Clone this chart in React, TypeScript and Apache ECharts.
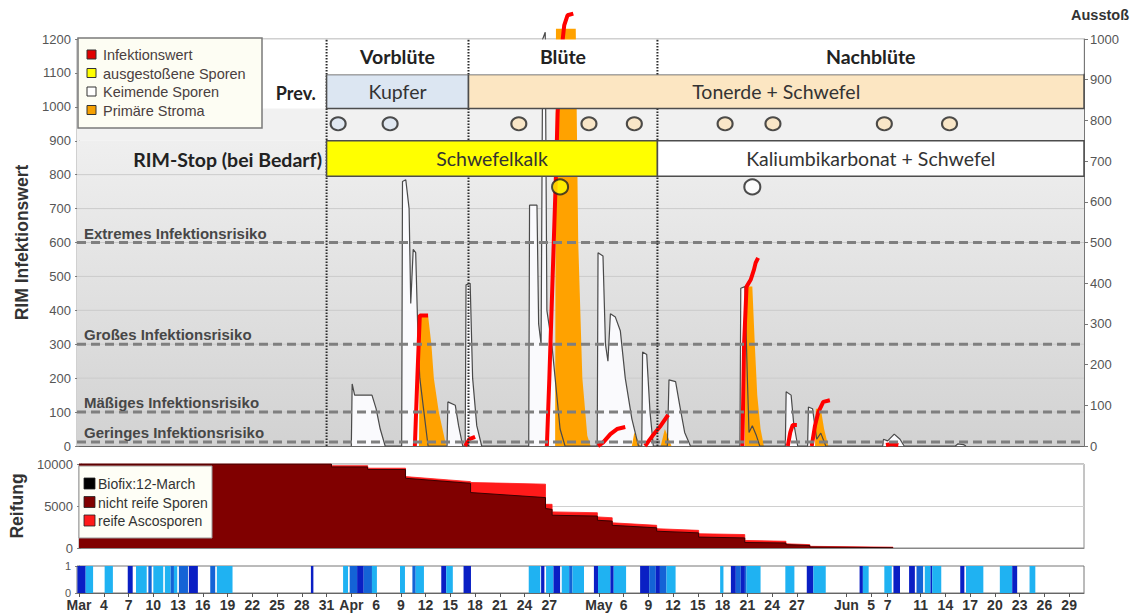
import React, { useEffect, useRef } from 'react';
import * as echarts from 'echarts';

// x unit: days since 1 March (0 = Mar 1)
const X_MIN = -0.25;
const X_MAX = 121.8;

const dateTickDays = [0, 3, 6, 9, 12, 15, 18, 21, 24, 27, 30, 33, 36, 39, 42, 45, 48, 51, 54, 57, 63, 66, 69, 72, 75, 78, 81, 84, 87, 93, 96, 98, 102, 105, 108, 111, 114, 117, 120];
const dateTickLabels = ['Mar', '4', '7', '10', '13', '16', '19', '22', '25', '28', '31', 'Apr', '6', '9', '12', '15', '18', '21', '24', '27', 'May', '6', '9', '12', '15', '18', '21', '24', '27', 'Jun', '5', '7', '11', '14', '17', '20', '23', '26', '29'];

const phaseNames = ['Vorblüte', 'Blüte', 'Nachblüte'];
const phaseStart = [30, 47.2, 70.1];
const phaseEnd = [47.2, 70.1, 121.8];
const phaseLabelValue = 1147;
const HEADER_LOW = 1095;
const HEADER_HIGH = 1200;

const bandLabels = ['Kupfer', 'Tonerde + Schwefel', 'Schwefelkalk', 'Kaliumbikarbonat + Schwefel'];
const bandStart = [30, 47.2, 30, 70.1];
const bandEnd = [47.2, 121.8, 70.1, 121.8];
const bandLow = [995, 995, 795, 795];
const bandHigh = [1095, 1095, 900, 900];
const bandColors = ['#dce6f2', '#fce6c2', '#ffff00', '#ffffff'];

const rowLabels = ['Prev.', 'RIM-Stop (bei Bedarf)'];
const rowLabelDay = [28.7, 29.45];
const rowLabelValue = [1040, 846];
const rowLabelSize = [18, 19.5];

const sprayDays = [31.4, 37.7, 53.3, 61.8, 67.3, 78.3, 84.1, 97.6, 105.5];
const sprayFill = ['#dce6f2', '#dce6f2', '#fbe3bd', '#fbe3bd', '#fbe3bd', '#fbe3bd', '#fbe3bd', '#fbe3bd', '#fbe3bd'];
const SPRAY_LEVEL = 950;

const dischargeDays = [58.3, 81.6];
const dischargeFill = ['#ffff00', '#ffffff'];
const DISCHARGE_LEVEL = 764;

const riskValues = [600, 300, 100, 12];
const riskLabels = ['Extremes Infektionsrisiko', 'Großes Infektionsrisiko', 'Mäßiges Infektionsrisiko', 'Geringes Infektionsrisiko'];
const gridValues = [100, 200, 300, 400, 500, 600, 700, 800];
const BG_ROW_HIGH = 995;
const BG_ROW_LOW = 900;

// Keimende Sporen (germinating spores)
const germData = [
  [33.0, 0], [33.1, 183], [33.4, 150], [35.5, 150], [36.0, 110], [36.5, 50], [37.1, 0],
  [39.1, 0], [39.2, 780], [39.6, 785], [40.0, 700], [40.2, 420], [40.5, 580], [40.8, 570], [41.1, 300], [41.3, 200], [41.8, 100], [42.3, 0],
  [44.6, 0], [44.7, 130], [45.6, 120], [46.0, 60], [46.5, 0],
  [46.8, 0], [46.9, 475], [47.4, 480], [47.7, 200], [48.2, 60], [48.8, 0],
  [54.5, 0], [54.6, 710], [55.5, 710], [55.7, 360], [56.0, 300], [56.2, 1200], [56.5, 1220], [56.7, 400], [57.3, 300], [57.7, 200], [58.3, 50], [58.9, 0],
  [62.8, 0], [62.9, 570], [63.5, 560], [63.8, 300], [64.1, 250], [64.4, 390], [65.0, 380], [65.6, 340], [66.2, 200], [67.0, 80], [67.8, 0],
  [68.2, 0], [68.3, 277], [68.8, 270], [69.2, 100], [69.6, 0],
  [71.3, 0], [71.5, 195], [72.3, 190], [72.8, 120], [73.4, 40], [74.1, 0],
  [80.1, 0], [80.2, 465], [80.7, 470], [81.0, 200], [81.2, 40], [81.6, 60], [82.1, 30], [82.5, 0],
  [85.6, 0], [85.7, 160], [86.3, 150], [86.6, 70], [87.1, 0],
  [88.3, 0], [88.4, 115], [88.9, 110], [89.4, 20], [89.9, 38], [90.5, 0],
  [97.4, 0], [97.5, 20], [98.0, 15], [98.8, 35], [99.5, 20], [100.0, 0],
  [106.2, 0], [106.5, 6], [107.2, 4], [107.5, 0],
];

// Primäre Stroma
const stromaData = [
  [41.2, 0], [41.3, 385], [42.3, 385], [42.7, 300], [43.0, 200], [43.6, 100], [44.5, 0],
  [57.7, 0], [57.8, 1230], [60.2, 1230], [60.5, 600], [61.0, 200], [61.6, 30], [62.0, 0],
  [67.0, 0], [67.3, 40], [68.0, 0],
  [70.5, 0], [71.0, 50], [71.8, 0],
  [80.7, 0], [80.8, 470], [81.6, 470], [81.9, 300], [82.2, 150], [82.6, 50], [83.0, 0],
  [89.2, 0], [89.3, 110], [89.9, 110], [90.3, 50], [90.8, 0],
];

// Infektionswert segments
const infectSegments = [
  [[40.7, 0], [41.0, 200], [41.3, 385], [42.3, 385]],
  [[46.8, 0], [47.3, 20], [48.0, 27]],
  [[56.7, 0], [57.0, 200], [57.4, 500], [57.8, 800], [58.0, 980], [58.4, 1150], [58.8, 1240], [59.2, 1270], [59.9, 1275]],
  [[62.9, 0], [63.5, 10], [64.4, 35], [65.2, 50], [66.2, 56]],
  [[68.6, 0], [69.5, 30], [70.5, 60], [71.4, 92]],
  [[80.4, 0], [80.6, 300], [80.9, 470], [81.4, 490], [81.8, 520], [82.0, 540], [82.3, 555]],
  [[85.9, 0], [86.2, 40], [86.5, 62], [87.0, 62]],
  [[88.8, 0], [89.2, 60], [89.6, 100], [90.2, 130], [91.0, 135]],
  [[97.8, 3], [98.5, 6], [99.3, 3]],
];

// Reifung
const totalSpores = [
  [X_MIN, 10000], [30.4, 10000], [30.4, 9800], [34.8, 9800], [34.8, 9500], [39.4, 9500], [39.4, 8500], [47.3, 7900], [47.3, 7800],
  [56.4, 7600], [56.4, 5200], [57.2, 5200], [57.2, 4300], [62.7, 4200], [62.7, 3700], [64.5, 3600], [64.5, 3000], [69.9, 2700],
  [69.9, 2300], [75.0, 2100], [75.0, 1700], [80.6, 1600], [80.6, 900], [85.6, 800], [85.6, 500], [88.5, 400], [88.5, 200],
  [98.6, 100], [98.6, 0],
];
const unripeSpores = [
  [X_MIN, 10000], [30.4, 10000], [30.4, 9650], [34.8, 9650], [34.8, 9350], [39.4, 9350], [39.4, 8300], [47.3, 7700], [47.3, 6600],
  [56.4, 6000], [56.4, 4700], [57.2, 4600], [57.2, 3900], [62.7, 3800], [62.7, 3300], [64.5, 3200], [64.5, 2700], [69.9, 2400],
  [69.9, 2000], [75.0, 1800], [75.0, 1300], [80.6, 1200], [80.6, 650], [85.6, 600], [85.6, 400], [88.5, 300], [88.5, 120],
  [98.6, 40], [98.6, 0],
];

// Leaf wetness strip: start, end, level (1 light, 2 medium, 3 dark)
const wetStart = [-0.2, 0.8, 3.1, 5.9, 6.9, 8.4, 9.0, 10.4, 11.1, 11.5, 12.1, 13.3, 15.9, 16.7, 28.1, 32.0, 32.8, 33.7, 34.5, 35.5, 38.9, 40.4, 40.8, 43.9, 44.5, 46.6, 54.5, 56.0, 56.6, 57.5, 58.5, 59.4, 59.8, 62.4, 62.9, 64.4, 64.8, 68.0, 69.1, 69.9, 70.4, 71.2, 77.7, 79.0, 79.6, 80.2, 80.7, 80.9, 85.6, 88.2, 89.0, 94.6, 95.0, 97.6, 98.7, 100.6, 101.5, 102.5, 103.2, 103.4, 106.8, 107.5, 111.6, 113.1, 115.2];
const wetEnd = [0.8, 1.7, 4.1, 6.5, 8.2, 8.8, 10.2, 11.1, 11.5, 11.9, 13.2, 14.4, 16.5, 18.6, 28.4, 32.6, 33.7, 34.5, 35.5, 36.1, 39.5, 40.8, 41.8, 44.5, 45.3, 47.5, 55.9, 56.4, 57.5, 58.3, 59.4, 59.8, 61.2, 62.9, 64.4, 64.8, 66.3, 69.1, 69.9, 70.4, 71.2, 72.3, 78.1, 79.6, 80.2, 80.7, 80.9, 82.6, 86.7, 89.0, 90.5, 95.0, 95.7, 98.5, 99.5, 101.3, 102.3, 103.2, 103.4, 104.5, 107.3, 109.6, 113.1, 113.7, 115.9];
const wetLevel = [3, 1, 1, 3, 1, 2, 1, 1, 2, 1, 2, 3, 2, 1, 3, 1, 2, 3, 2, 1, 1, 2, 1, 3, 1, 3, 1, 3, 1, 3, 1, 2, 1, 3, 1, 3, 1, 3, 2, 3, 2, 1, 1, 3, 2, 3, 2, 1, 1, 3, 1, 3, 1, 1, 3, 3, 2, 1, 3, 1, 3, 1, 1, 3, 1];
const wetColors = ['#ffffff', '#1fb2f2', '#1463d6', '#0a1fc4'];

const ARIAL = '"Liberation Sans", Arial, sans-serif';
const CAL = 'Lato, "Open Sans", sans-serif';

function buildOption(): any {
  const series: any[] = [];

  // background + gridlines
  series.push({
    type: 'custom', xAxisIndex: 0, yAxisIndex: 0, z: 1, silent: true,
    data: [[X_MIN, 0]],
    renderItem: (_p: any, api: any) => {
      const l = api.coord([X_MIN, 0])[0];
      const r = api.coord([X_MAX, 0])[0];
      const yv = (v: number) => api.coord([X_MIN, v])[1];
      const children: any[] = [
        { type: 'rect', shape: { x: l, y: yv(BG_ROW_HIGH), width: r - l, height: yv(BG_ROW_LOW) - yv(BG_ROW_HIGH) }, style: { fill: '#f1f1f1' } },
        {
          type: 'rect', shape: { x: l, y: yv(BG_ROW_LOW), width: r - l, height: yv(0) - yv(BG_ROW_LOW) },
          style: { fill: new echarts.graphic.LinearGradient(0, 0, 0, 1, [{ offset: 0, color: '#efefef' }, { offset: 1, color: '#d2d2d2' }]) },
        },
      ];
      gridValues.forEach((v) => children.push({ type: 'line', shape: { x1: l, y1: yv(v), x2: r, y2: yv(v) }, style: { stroke: '#cbcbcb', lineWidth: 1 } }));
      return { type: 'group', children };
    },
  });

  series.push({
    type: 'line', name: 'Keimende Sporen', xAxisIndex: 0, yAxisIndex: 0, z: 3, clip: false,
    data: germData, symbol: 'none', lineStyle: { color: '#4a4a4a', width: 1.2 },
    areaStyle: { color: '#fafafd', opacity: 1 },
  });
  series.push({
    type: 'line', name: 'Primäre Stroma', xAxisIndex: 0, yAxisIndex: 0, z: 3, clip: false,
    data: stromaData, symbol: 'none', lineStyle: { width: 0, color: '#ffa200' },
    areaStyle: { color: '#ffa200', opacity: 1 },
  });
  infectSegments.forEach((seg) => {
    series.push({
      type: 'line', name: 'Infektionswert', xAxisIndex: 0, yAxisIndex: 0, z: 3, clip: false,
      data: seg, symbol: 'none', lineStyle: { color: '#ff0000', width: 4 },
    });
  });

  // thresholds and phase boundaries
  series.push({
    type: 'custom', xAxisIndex: 0, yAxisIndex: 0, z: 4, silent: true,
    data: [[X_MIN, 0]],
    renderItem: (_p: any, api: any) => {
      const l = api.coord([X_MIN, 0])[0];
      const r = api.coord([X_MAX, 0])[0];
      const children: any[] = [];
      riskValues.forEach((v, i) => {
        const y = api.coord([X_MIN, v])[1];
        children.push({ type: 'line', shape: { x1: l, y1: y, x2: r, y2: y }, style: { stroke: '#7f7f7f', lineWidth: 3, lineDash: [9, 5] } });
        children.push({ type: 'text', x: l + 7, y: y - 2, style: { text: riskLabels[i], fill: '#474747', fontSize: 15, fontWeight: 'bold', fontFamily: ARIAL, align: 'left', verticalAlign: 'bottom' } });
      });
      phaseStart.forEach((b) => {
        const p0 = api.coord([b, 0]);
        const p1 = api.coord([b, 1200]);
        children.push({ type: 'line', shape: { x1: p0[0], y1: p0[1], x2: p1[0], y2: p1[1] }, style: { stroke: '#2a2a2a', lineWidth: 2, lineDash: [1.5, 1.5] } });
      });
      return { type: 'group', children };
    },
  });

  series.push({
    type: 'scatter', name: 'Spritzung', xAxisIndex: 0, yAxisIndex: 0, z: 9,
    symbol: 'circle', symbolSize: [15, 13],
    data: sprayDays.map((d, i) => ({ value: [d, SPRAY_LEVEL], itemStyle: { color: sprayFill[i] } })),
    itemStyle: { borderColor: '#222', borderWidth: 2 },
  });
  series.push({
    type: 'scatter', name: 'ausgestoßene Sporen', xAxisIndex: 0, yAxisIndex: 0, z: 12,
    symbol: 'circle', symbolSize: [16, 15],
    data: dischargeDays.map((d, i) => ({ value: [d, DISCHARGE_LEVEL], itemStyle: { color: dischargeFill[i] } })),
    itemStyle: { borderColor: '#222', borderWidth: 2 },
  });

  // bands
  series.push({
    type: 'custom', xAxisIndex: 0, yAxisIndex: 0, z: 10, silent: true,
    data: bandStart.map((s, i) => [s, bandHigh[i]]),
    renderItem: (params: any, api: any) => {
      const i = params.dataIndex;
      const p0 = api.coord([bandStart[i], bandHigh[i]]);
      const p1 = api.coord([bandEnd[i], bandLow[i]]);
      return {
        type: 'group',
        children: [
          { type: 'rect', shape: { x: p0[0], y: p0[1], width: p1[0] - p0[0], height: p1[1] - p0[1] }, style: { fill: bandColors[i], stroke: '#4d4d4d', lineWidth: 1.5 } },
          { type: 'text', x: (p0[0] + p1[0]) / 2, y: (p0[1] + p1[1]) / 2, style: { text: bandLabels[i], fill: '#333333', fontSize: 19.5, fontFamily: CAL, align: 'center', verticalAlign: 'middle' } },
        ],
      };
    },
  });

  // header row (white, covers data), phase + row labels
  series.push({
    type: 'custom', xAxisIndex: 0, yAxisIndex: 0, z: 11, silent: true,
    data: [[X_MIN, 0]],
    renderItem: (_p: any, api: any) => {
      const l = api.coord([X_MIN, HEADER_HIGH]);
      const r = api.coord([X_MAX, HEADER_LOW]);
      const children: any[] = [
        { type: 'rect', shape: { x: l[0] + 0.5, y: l[1] + 0.5, width: r[0] - l[0] - 1, height: r[1] - l[1] - 0.5 }, style: { fill: '#ffffff' } },
      ];
      phaseStart.forEach((b) => {
        const p0 = api.coord([b, HEADER_LOW]);
        const p1 = api.coord([b, HEADER_HIGH]);
        children.push({ type: 'line', shape: { x1: p0[0], y1: p0[1], x2: p1[0], y2: p1[1] }, style: { stroke: '#2a2a2a', lineWidth: 2, lineDash: [1.5, 1.5] } });
      });
      phaseNames.forEach((n, i) => {
        const p = api.coord([(phaseStart[i] + phaseEnd[i]) / 2, phaseLabelValue]);
        children.push({ type: 'text', x: p[0], y: p[1], style: { text: n, fill: '#222', fontSize: 19.5, fontWeight: 'bold', fontFamily: CAL, align: 'center', verticalAlign: 'middle' } });
      });
      rowLabels.forEach((n, i) => {
        const p = api.coord([rowLabelDay[i], rowLabelValue[i]]);
        children.push({ type: 'text', x: p[0], y: p[1], style: { text: n, fill: '#222', fontSize: rowLabelSize[i], fontWeight: 'bold', fontFamily: CAL, align: 'right', verticalAlign: 'middle' } });
      });
      return { type: 'group', children };
    },
  });

  // Reifung
  series.push({
    type: 'line', name: 'reife Ascosporen', xAxisIndex: 1, yAxisIndex: 2, z: 3,
    data: totalSpores, symbol: 'none', lineStyle: { width: 0.8, color: '#ff1a1a' },
    areaStyle: { color: '#ff1a1a', opacity: 1 },
  });
  series.push({
    type: 'line', name: 'nicht reife Sporen', xAxisIndex: 1, yAxisIndex: 2, z: 4,
    data: unripeSpores, symbol: 'none', lineStyle: { width: 1, color: '#3a0000' },
    areaStyle: { color: '#800000', opacity: 1 },
  });

  // wetness strip
  series.push({
    type: 'custom', xAxisIndex: 2, yAxisIndex: 3, z: 3, silent: true,
    data: wetStart.map((s, i) => [s, wetEnd[i]]),
    renderItem: (params: any, api: any) => {
      const i = params.dataIndex;
      const p0 = api.coord([wetStart[i], 1]);
      const p1 = api.coord([wetEnd[i], 0]);
      return { type: 'rect', shape: { x: p0[0], y: p0[1], width: Math.max(1, p1[0] - p0[0]), height: p1[1] - p0[1] }, style: { fill: wetColors[wetLevel[i]] } };
    },
  });

  const legendItems = [
    { t: 'Infektionswert', c: '#e00000' },
    { t: 'ausgestoßene Sporen', c: '#ffff00' },
    { t: 'Keimende Sporen', c: '#ffffff' },
    { t: 'Primäre Stroma', c: '#f5a000' },
  ];
  const reifItems = [
    { t: 'Biofix:12-March', c: '#000000' },
    { t: 'nicht reife Sporen', c: '#800000' },
    { t: 'reife Ascosporen', c: '#ff1a1a' },
  ];
  const graphic: any[] = [
    { type: 'rect', z: 100, shape: { x: 78, y: 38, width: 184, height: 90 }, style: { fill: '#fdfdf3', stroke: '#7a7a7a', lineWidth: 1.5 } },
    ...legendItems.flatMap((it, i) => [
      { type: 'rect', z: 101, shape: { x: 87, y: 50 + i * 18.5, width: 9, height: 9 }, style: { fill: it.c, stroke: '#333', lineWidth: 1 } },
      { type: 'text', z: 101, x: 103, y: 55 + i * 18.5, style: { text: it.t, fill: '#4a4040', fontSize: 14.5, fontFamily: ARIAL, verticalAlign: 'middle' } },
    ]),
    { type: 'rect', z: 100, shape: { x: 79, y: 466, width: 133, height: 72 }, style: { fill: '#fefef6', stroke: '#999', lineWidth: 1 } },
    ...reifItems.flatMap((it, i) => [
      { type: 'rect', z: 101, shape: { x: 84, y: 478 + i * 18.5, width: 11, height: 11 }, style: { fill: it.c, stroke: '#222', lineWidth: 0.8 } },
      { type: 'text', z: 101, x: 98, y: 484 + i * 18.5, style: { text: it.t, fill: '#333', fontSize: 14, fontFamily: ARIAL, verticalAlign: 'middle' } },
    ]),
    { type: 'text', z: 101, x: 1129, y: 15, style: { text: 'Ausstoß', fill: '#333', fontSize: 14.5, fontWeight: 'bold', fontFamily: ARIAL, align: 'right', verticalAlign: 'middle' } },
  ];

  const axisLbl = { color: '#555', fontSize: 13, fontFamily: ARIAL, formatter: (v: number) => String(v) };
  return {
    animation: false,
    backgroundColor: '#ffffff',
    grid: [
      { left: 77, top: 39, width: 1007, height: 407, show: true, borderColor: '#a0a0a0', borderWidth: 1 },
      { left: 77, top: 464, width: 1007, height: 84, show: true, borderColor: '#8a8a8a', borderWidth: 1 },
      { left: 77, top: 566, width: 1007, height: 27, show: true, borderColor: '#777', borderWidth: 1 },
    ],
    xAxis: [
      { gridIndex: 0, type: 'value', min: X_MIN, max: X_MAX, axisLabel: { show: false }, axisTick: { show: false }, splitLine: { show: false }, axisLine: { lineStyle: { color: '#666' } } },
      { gridIndex: 1, type: 'value', min: X_MIN, max: X_MAX, axisLabel: { show: false }, axisTick: { show: false }, splitLine: { show: false }, axisLine: { lineStyle: { color: '#888' } } },
      {
        gridIndex: 2, type: 'value', min: X_MIN, max: X_MAX, splitLine: { show: false },
        axisLine: { lineStyle: { color: '#666' } },
        axisTick: { show: true, customValues: dateTickDays, length: 4, lineStyle: { color: '#555' } },
        axisLabel: {
          show: true, customValues: dateTickDays, margin: 5, color: '#333', fontSize: 14, fontWeight: 'bold', fontFamily: ARIAL,
          formatter: (v: number) => { const i = dateTickDays.indexOf(v); return i >= 0 ? dateTickLabels[i] : ''; },
        },
      },
    ],
    yAxis: [
      {
        gridIndex: 0, type: 'value', min: 0, max: 1200, interval: 100, position: 'left',
        name: 'RIM Infektionswert', nameLocation: 'middle', nameRotate: 90, nameGap: 42,
        nameTextStyle: { fontSize: 17.5, fontWeight: 'bold', color: '#333', fontFamily: ARIAL },
        axisLine: { show: true, lineStyle: { color: '#777' } }, axisTick: { show: true, length: 4, lineStyle: { color: '#777' } },
        axisLabel: { ...axisLbl, margin: 6 }, splitLine: { show: false },
      },
      {
        gridIndex: 0, type: 'value', min: 0, max: 1000, interval: 100, position: 'right',
        axisLine: { show: true, lineStyle: { color: '#777' } }, axisTick: { show: true, length: 4, lineStyle: { color: '#777' } },
        axisLabel: { ...axisLbl, margin: 6 }, splitLine: { show: false },
      },
      {
        gridIndex: 1, type: 'value', min: 0, max: 10000, interval: 5000, position: 'left',
        name: 'Reifung', nameLocation: 'middle', nameRotate: 90, nameGap: 50,
        nameTextStyle: { fontSize: 17.5, fontWeight: 'bold', color: '#333', fontFamily: ARIAL },
        axisLine: { show: true, lineStyle: { color: '#777' } }, axisTick: { show: true, length: 4, lineStyle: { color: '#777' } },
        axisLabel: { ...axisLbl, margin: 6 }, splitLine: { show: true, lineStyle: { color: '#d0d0d0' } },
      },
      {
        gridIndex: 2, type: 'value', min: 0, max: 1, interval: 1, position: 'left',
        axisLine: { show: true, lineStyle: { color: '#777' } }, axisTick: { show: true, length: 4, lineStyle: { color: '#777' } },
        axisLabel: { ...axisLbl, fontSize: 11, margin: 6 }, splitLine: { show: false },
      },
    ],
    series,
    graphic,
  };
}

export default function App() {
  const ref = useRef<HTMLDivElement>(null);
  useEffect(() => {
    const chart = echarts.init(ref.current as HTMLDivElement, null, { renderer: 'svg' });
    chart.setOption(buildOption());
    return () => chart.dispose();
  }, []);
  return <div ref={ref} style={{ position: 'fixed', left: 0, top: 0, width: 1131, height: 614 }} />;
}
